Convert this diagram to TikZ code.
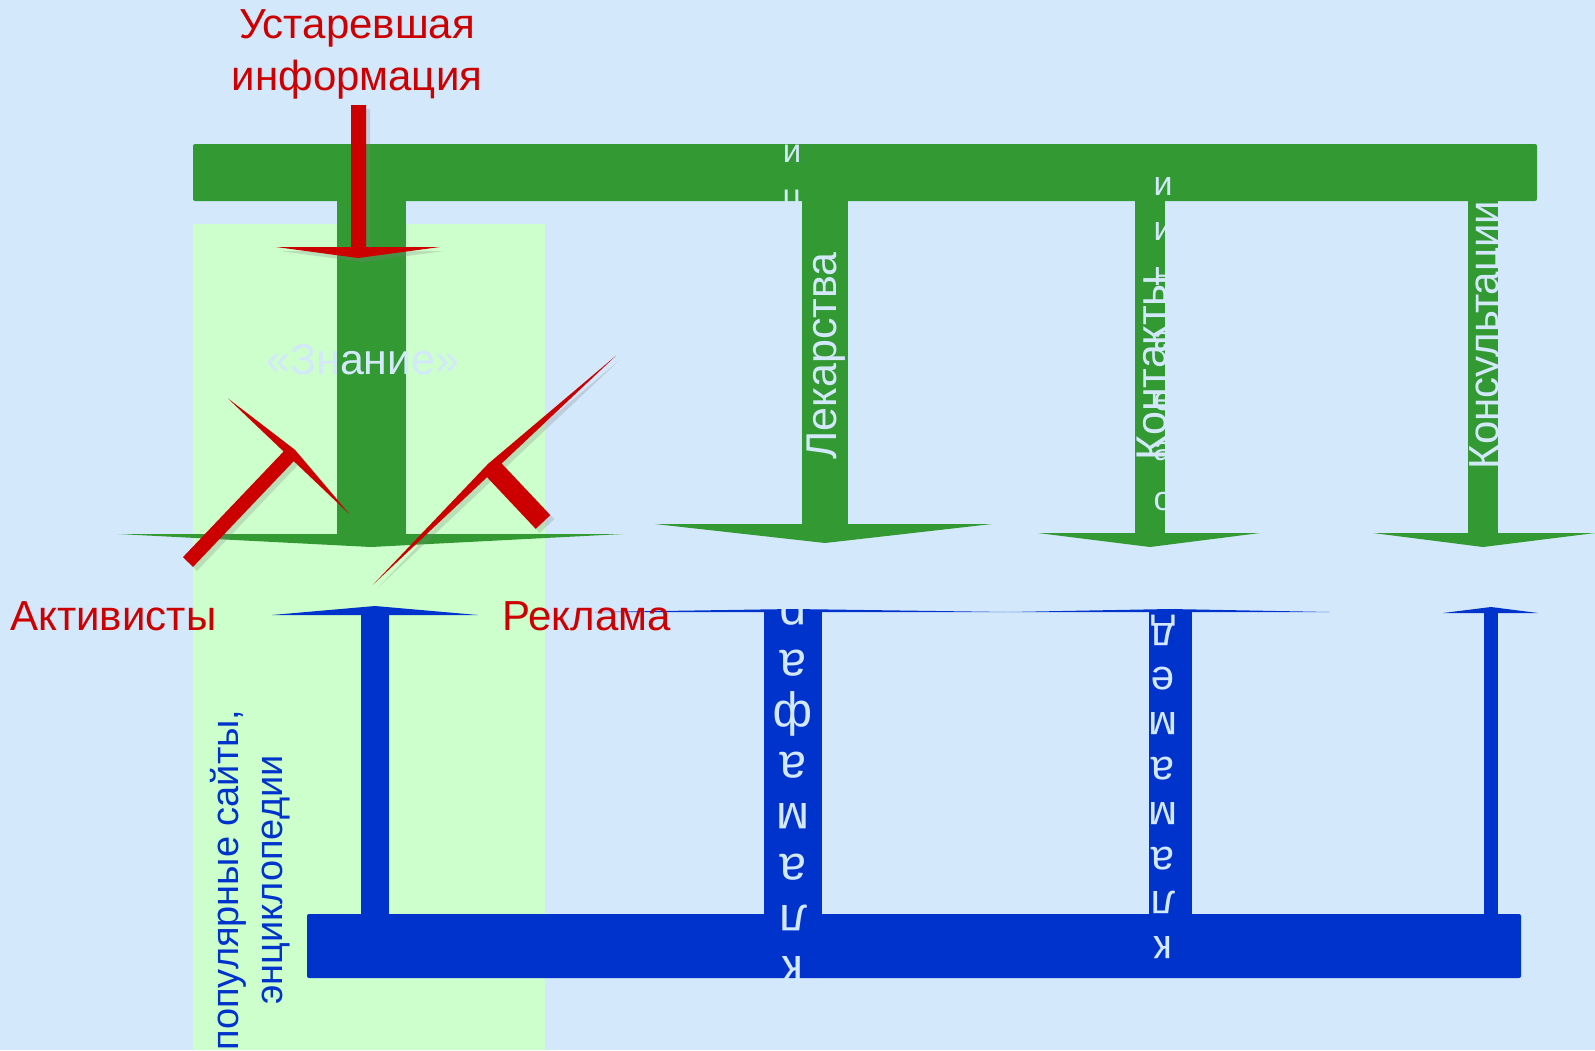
\documentclass[tikz,border=0pt]{standalone}
\usepackage{fontspec}
\setmainfont{Liberation Sans}
\usepackage{tikz}
\usetikzlibrary{shadows}

\definecolor{bgblue}{HTML}{D4E8FC}
\definecolor{palegreen}{HTML}{CCFFCC}
\definecolor{flowgreen}{HTML}{339933}
\definecolor{flowblue}{HTML}{0033CC}
\definecolor{alarmred}{HTML}{CC0000}

\tikzset{
  stemtext/.style={text=bgblue, inner sep=0pt},
  redlabel/.style={text=alarmred, inner sep=0pt, font=\fontsize{21}{26}\selectfont},
  redarrow/.style={fill=alarmred, drop shadow={opacity=0.25, shadow xshift=2pt, shadow yshift=-2pt}},
}

\begin{document}
\begin{tikzpicture}[x=0.5pt,y=-0.5pt]
\fill[bgblue] (0,0) rectangle (1595,1050);
\useasboundingbox (0,0) rectangle (1595,1050);
\fill[palegreen] (193,224) rectangle (545,1050);

% green bar with its four arrows
\fill[flowgreen, rounded corners=1pt] (193,144) rectangle (1537,201);
\foreach \sl/\sr/\by/\hl/\hr/\tx/\ty in {337/406/534/118/623/371/547, 802/848/524/655/992/825/543,
    1135/1165/533/1038/1260/1150/547, 1468/1498/533/1373/1595/1483/547}{
  \fill[flowgreen] (\sl,200) rectangle (\sr,\by+1);
  \fill[flowgreen] (\hl,\by) -- (\hr,\by) -- (\tx,\ty) -- cycle;
}

% blue bar with its four arrows
\fill[flowblue, rounded corners=1pt] (307,914) rectangle (1521,978);
\foreach \sl/\sr/\by/\hl/\hr/\tx/\ty in {361/389/615/272/478/375/606, 764/822/612/595/1008/793/609,
    1149/1192/612/1008/1330/1170/609, 1484/1498/613/1443/1538/1491/607}{
  \fill[flowblue] (\sl,\by-1) rectangle (\sr,978);
  \fill[flowblue] (\hl,\by) -- (\hr,\by) -- (\tx,\ty) -- cycle;
}

% texts in the arrows
\node[stemtext, anchor=base, font=\fontsize{21.5}{25}\selectfont] (know) at (363,374) {«Знание»};
\node[stemtext, rotate=90, anchor=base, font=\fontsize{21.5}{25}\selectfont] (drugs) at (836,356) {Лекарства};
\node[stemtext, rotate=90, anchor=base, font=\fontsize{21.5}{25}\selectfont] (contacts) at (1166,368) {Контакты};
\node[stemtext, rotate=90, anchor=base, font=\fontsize{21}{25}\selectfont] (consult) at (1498,335) {Консультации};
\foreach \ch/\by [count=\i] in {и/162, ц/207}
  \node[stemtext, anchor=base, font=\fontsize{16.5}{17}\selectfont] (cola\i) at (792,\by) {\ch};
\foreach \ch/\by [count=\i] in {и/195, и/240, н/285, а/350, е/410, а/460, о/510}
  \node[stemtext, anchor=base, font=\fontsize{17}{17}\selectfont] (colb\i) at (1163,\by) {\ch};
\foreach \ch [count=\i from 0] in {р,а,ф,а,м,а,л,к}
  \node[stemtext, rotate=180, anchor=base, font=\fontsize{24}{24}\selectfont] (colc\i) at (793,599+51*\i) {\ch};
\foreach \ch [count=\i from 0] in {д,е,м,а,м,а,л,к}
  \node[stemtext, rotate=180, anchor=base, font=\fontsize{21}{21}\selectfont] (cold\i) at (1163,623+44.8*\i) {\ch};

\node[text=flowblue, inner sep=0pt, rotate=90, align=center, font=\fontsize{19}{22}\selectfont] (sites) at (250,880)
  {популярные сайты,\\энциклопедии};

% red labels and arrows
\node[redlabel, anchor=base] (old1) at (357,38) {Устаревшая};
\node[redlabel, anchor=base] (old2) at (357,90) {информация};
\node[redlabel, anchor=base west] (activists) at (10,630) {Активисты};
\node[redlabel, anchor=base west] (ads) at (502,630) {Реклама};

\fill[redarrow] (351,105) -- (366,105) -- (366,247) -- (440,247) -- (358,258) -- (276,247) -- (351,247) -- cycle;
\begin{scope}[shift={(188,562)}, rotate=46.4]
  \fill[redarrow] (0,-7) -- (146,-7) -- (146,-84) -- (155,0) -- (146,84) -- (146,7) -- (0,7) -- cycle;
\end{scope}
\begin{scope}[shift={(543,522)}, rotate=133.3]
  \fill[redarrow] (0,-10) -- (71,-10) -- (71,-167) -- (80,0) -- (71,167) -- (71,10) -- (0,10) -- cycle;
\end{scope}
\end{tikzpicture}
\end{document}
